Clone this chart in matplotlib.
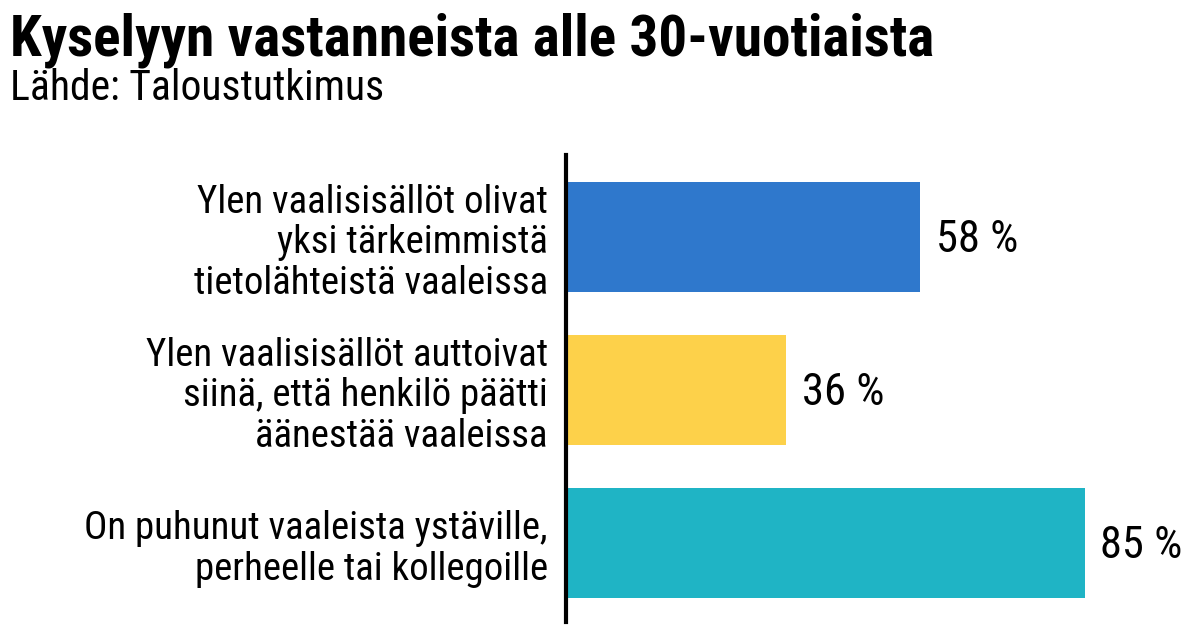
import matplotlib
matplotlib.use("Agg")
import matplotlib.pyplot as plt
from matplotlib import font_manager as fm

categories = [
    "Ylen vaalisisällöt olivat\nyksi tärkeimmistä\ntietolähteistä vaaleissa",
    "Ylen vaalisisällöt auttoivat\nsiinä, että henkilö päätti\näänestää vaaleissa",
    "On puhunut vaaleista ystäville,\nperheelle tai kollegoille",
]
values = [58, 36, 85]
value_labels = ["58 %", "36 %", "85 %"]
colors = ["#2F78CC", "#FDD14A", "#1FB4C5"]
title = "Kyselyyn vastanneista alle 30-vuotiaista"
subtitle = "Lähde: Taloustutkimus"

names = sorted({f.name for f in fm.fontManager.ttflist})
fam = None
for cand in ["Roboto Condensed", "Liberation Sans Narrow", "Roboto", "DejaVu Sans"]:
    if cand in names:
        fam = cand
        break
plt.rcParams['font.family'] = [fam, 'DejaVu Sans']

W, H = 1199, 638
fig = plt.figure(figsize=(W / 100, H / 100), dpi=100)
ax = fig.add_axes([566 / W, 1 - 622 / H, (W - 566) / W, (622 - 155) / H])

ypos = list(range(len(values)))
ax.barh(ypos, values, height=0.719, color=colors)
ax.set_ylim(2.516, -0.536)
ax.set_xlim(0, (W - 566) / 6.1)

for spine in ["top", "right", "bottom"]:
    ax.spines[spine].set_visible(False)
ax.spines["left"].set_linewidth(3)
ax.spines["left"].set_color("black")
ax.set_xticks([])
ax.set_yticks(ypos)
ax.set_yticklabels(categories, fontsize=28, linespacing=1.12, ha="right")
ax.tick_params(axis="y", length=0, pad=13)

for y, v, t in zip(ypos, values, value_labels):
    ax.text(v + 16 / 6.1, y + 0.02, t, va="center", ha="left", fontsize=32)

fig.text(10 / W, 1 - 56 / H, title, fontsize=41.2, fontweight="bold", ha="left", va="baseline")
fig.text(10 / W, 1 - 100 / H, subtitle, fontsize=30, ha="left", va="baseline")

fig.savefig("out.png", dpi=100)
